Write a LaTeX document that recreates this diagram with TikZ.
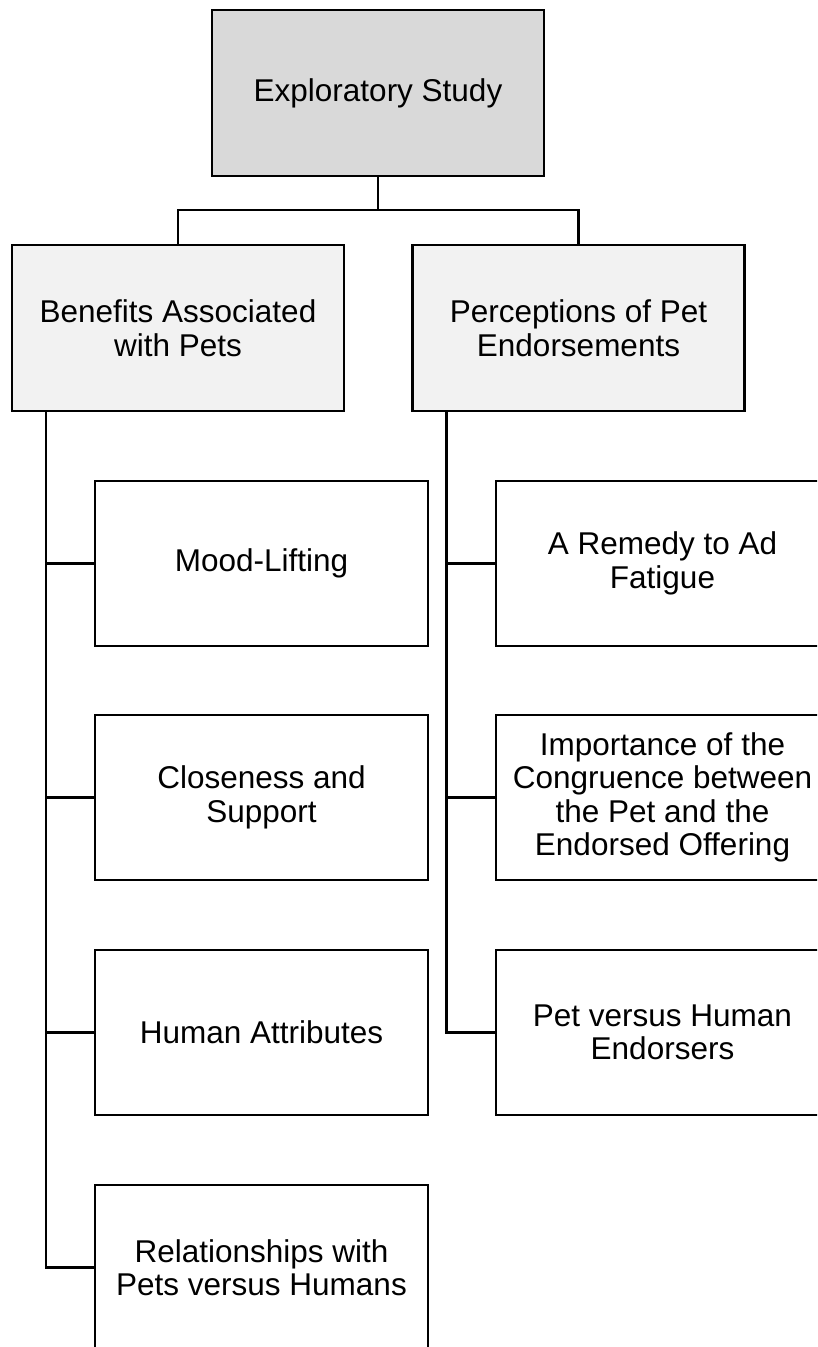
\documentclass[tikz,border=0pt]{standalone}
\usepackage{fontspec}
\setmainfont{Liberation Sans}
\usetikzlibrary{calc}
\definecolor{rootfill}{HTML}{D9D9D9}
\definecolor{themefill}{HTML}{F2F2F2}
\tikzset{
  box/.style={draw=black, line width=2.5pt, rectangle, outer sep=0pt, inner sep=4pt,
    align=center, font=\fontsize{31.5}{33.5}\selectfont},
  rootbox/.style={box, fill=rootfill, minimum width=332pt, minimum height=166pt},
  themebox/.style={box, fill=themefill, minimum width=332pt, minimum height=166pt},
  subbox/.style={box, fill=white, minimum width=333pt, minimum height=165pt},
  link/.style={draw=black, line width=2.5pt},
}
\begin{document}
\begin{tikzpicture}[x=1pt, y=-1pt]
\useasboundingbox (0,0) rectangle (817,1347);
\clip (0,0) rectangle (817,1347);
\fill[white] (0,0) rectangle (817,1347);

% root and the two themes
\node[rootbox] (root) at (378,93) {Exploratory Study};
\node[themebox] (ben) at (178,328) {Benefits Associated\\with Pets};
\node[themebox] (perc) at (578.5,328) {Perceptions of Pet\\Endorsements};

% sub-themes of the first theme
\node[subbox] (b1) at (261.5,563.5) {Mood-Lifting};
\node[subbox] (b2) at (261.5,797.5) {Closeness and\\Support};
\node[subbox] (b3) at (261.5,1032.5) {Human Attributes};
\node[subbox] (b4) at (261.5,1267.5) {Relationships with\\Pets versus Humans};

% sub-themes of the second theme
\node[subbox] (p1) at (662.5,563.5) {A Remedy to Ad\\Fatigue};
\node[subbox] (p2) at (662.5,797.5) {Importance of the\\Congruence between\\the Pet and the\\Endorsed Offering};
\node[subbox] (p3) at (662.5,1032.5) {Pet versus Human\\Endorsers};

% root to themes
\coordinate (fork) at ($(root.south)+(0,34)$);
\draw[link] (root.south) -- (fork);
\draw[link] (fork) -| (ben.north);
\draw[link] (fork) -| (perc.north);

% spines down the left side of each theme
\coordinate (bspine) at ($(ben.south west)+(34,0)$);
\coordinate (pspine) at ($(perc.south west)+(34,0)$);
\foreach \c in {b1,b2,b3,b4} \draw[link] (bspine) |- (\c.west);
\foreach \c in {p1,p2,p3} \draw[link] (pspine) |- (\c.west);
\end{tikzpicture}
\end{document}
